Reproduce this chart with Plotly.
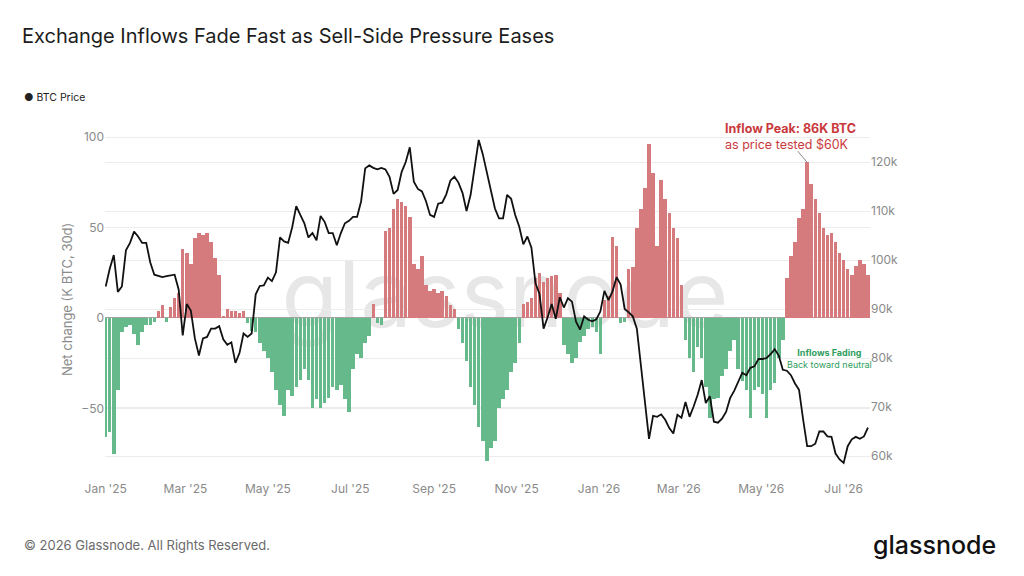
import plotly.graph_objects as go
import pandas as pd

# ---------------- data (3-day steps starting 2025-01-01) ----------------
start_date = "2025-01-01"
step = "3D"

net_change_k_btc = [
    -66, -63, -75, -40, -8, -5, -4, -9, -15, -8,
    -4, -4, -2, 4, 7, -2, 6, 11, 14, 38,
    36, 30, 44, 47, 46, 47, 42, 33, 24, 1,
    5, 4, 4, 3, 4, -3, -7, -8, -14, -18,
    -22, -30, -40, -48, -54, -40, -43, -38, -34, -28,
    -34, -50, -45, -50, -47, -44, -38, -40, -37, -45,
    -52, -28, -20, -22, -14, -10, 8, -3, -4, 48,
    50, 60, 66, 64, 62, 56, 30, 27, 34, 18,
    15, 16, 14, 15, 12, 7, 5, -6, -14, -24,
    -38, -48, -60, -68, -79, -72, -68, -50, -45, -40,
    -30, -25, -14, 8, 9, 11, 22, 25, 20, 22,
    23, 24, 14, -15, -20, -25, -22, -13, -10, -6,
    -5, -8, -20, 10, 12, 45, 40, -3, -2, 27,
    28, 50, 60, 72, 96, 80, 40, 76, 66, 58,
    50, 44, 18, -12, -22, -30, -16, -22, -38, -55,
    -45, -44, -32, -28, -18, -12, -28, -35, -40, -55,
    -40, -38, -42, -55, -40, -36, -22, -12, 22, 34,
    42, 55, 60, 86, 74, 66, 58, 50, 46, 47,
    42, 36, 32, 27, 24, 29, 32, 30, 24,
]

btc_price_k = [
    94.6, 98.2, 101, 93.5, 94.6, 102, 103.5, 105.8, 104.8, 103.5,
    103.5, 99.5, 97, 96.8, 96.5, 96.7, 96.8, 97, 94, 84.6,
    91, 89.7, 84, 80.5, 84, 84.3, 86, 86, 86.5, 83.8,
    82.7, 83.2, 79, 81, 85, 84.3, 85, 93, 94.7, 94.8,
    96.4, 95.7, 97.5, 104.6, 103.8, 103.5, 106.7, 111, 109.2, 107.5,
    104.6, 105.5, 104, 109, 107.8, 105.5, 105.5, 103, 105.5, 107.5,
    108, 108.8, 108.8, 112, 118.7, 119.3, 118.8, 118.5, 118.8, 118.5,
    117, 113.5, 114.3, 118, 120, 123, 116, 114.5, 114, 112,
    109.2, 108.8, 111.5, 111.7, 113.4, 116.2, 117, 115.8, 113.7, 110,
    113.3, 119, 124.5, 121.6, 118, 114.5, 110.5, 108.5, 108.5, 113.3,
    112.5, 109.2, 106.8, 103.2, 104.8, 102.5, 95.3, 93, 86, 88.3,
    91, 88, 92.4, 90.3, 92.2, 91.5, 87.4, 85.8, 88.5, 87.8,
    87.5, 87.9, 89.5, 93.7, 91.8, 93.6, 96.5, 95, 90, 89.3,
    88.5, 86, 78.5, 70.5, 63.5, 68.2, 68, 68.5, 67.4, 65.7,
    64.6, 68.4, 67.8, 71, 68, 70.1, 72.5, 75.5, 70.8, 72.2,
    67, 66.8, 67.6, 69, 71.8, 73.3, 75.3, 77, 76.5, 78,
    78.3, 79.8, 79.8, 80, 80.8, 81.8, 80.5, 77.6, 77.4, 76.5,
    74.8, 73.5, 67.5, 62, 62, 62.5, 65, 65, 64, 63.9,
    60.5, 59.3, 58.6, 62, 63.4, 63.9, 63.5, 64, 65.8,
]

left_ticks = [-50, 0, 50, 100]
right_ticks = [60, 70, 80, 90, 100, 110, 120]
right_tick_labels = ["60k", "70k", "80k", "90k", "100k", "110k", "120k"]

peak_value = 86

# ---------------- styling ----------------
FONT = "Inter"
RED = "#d57a7d"
GREEN = "#66b98a"
GRID = "#ececec"
TICK = "#8a8a8a"

dates = pd.date_range(start_date, periods=len(net_change_k_btc), freq=step)
bar_colors = [RED if v >= 0 else GREEN for v in net_change_k_btc]
peak_idx = len(net_change_k_btc) - 1 - net_change_k_btc[::-1].index(peak_value)

fig = go.Figure()
fig.add_trace(go.Bar(
    x=dates, y=net_change_k_btc, marker=dict(color=bar_colors, line=dict(width=0)),
    width=3 * 86400000 * 0.86, yaxis="y", showlegend=False, name="Net change",
))
fig.add_trace(go.Scatter(
    x=dates, y=btc_price_k, mode="lines", line=dict(color="#111111", width=1.8),
    yaxis="y2", showlegend=False, name="BTC Price",
))

L, R, T, B = 105, 154, 128, 110
W, H = 1024, 576
pw, ph = W - L - R, H - T - B


def px(x):
    return (x - L) / pw


def py(y):
    return (H - B - y) / ph


fig.update_layout(
    width=W, height=H,
    margin=dict(l=L, r=R, t=T, b=B, pad=0),
    paper_bgcolor="white", plot_bgcolor="white",
    font=dict(family=FONT, color="#333333"),
    bargap=0,
    title=dict(
        text="Exchange Inflows Fade Fast as Sell-Side Pressure Eases",
        x=22 / W, xref="container", xanchor="left",
        y=1 - 36 / H, yref="container", yanchor="middle",
        font=dict(family=FONT, size=20, color="#1d1d1d"),
    ),
    xaxis=dict(
        type="date",
        range=["2024-12-31 12:00", "2026-07-20 12:00"],
        tick0="2025-01-01", dtick="M2", tickformat="%b '%y",
        showgrid=False, showline=False, zeroline=False, ticks="",
        tickfont=dict(size=12, color=TICK, family=FONT),
        ticklabelstandoff=14,
    ),
    yaxis=dict(
        range=[-81.8, 105.0], tickvals=left_ticks,
        showgrid=True, gridcolor=GRID, gridwidth=1,
        zeroline=True, zerolinecolor="#a3a3a3", zerolinewidth=1,
        showline=False, ticks="",
        tickfont=dict(size=12, color=TICK, family=FONT),
    ),
    yaxis2=dict(
        range=[57.96, 126.94], tickvals=right_ticks, ticktext=right_tick_labels,
        overlaying="y", side="right",
        showgrid=True, gridcolor=GRID, gridwidth=1,
        zeroline=False, showline=False, ticks="",
        tickfont=dict(size=12, color=TICK, family=FONT),
    ),
)

# watermark behind data
fig.add_shape(
    type="rect", xref="paper", yref="paper",
    x0=px(270), x1=px(740), y0=py(335), y1=py(245),
    line=dict(width=0), fillcolor="rgba(0,0,0,0)", layer="below",
    label=dict(text="glassnode", textposition="middle center",
               font=dict(size=92, color="#e7e7e7", family=FONT)),
)

ann = []
ann.append(dict(
    text="\u25CF BTC Price", xref="paper", yref="paper", x=px(22), y=py(97),
    xanchor="left", yanchor="middle", showarrow=False,
    font=dict(size=10.5, color="#222222", family=FONT),
))
ann.append(dict(
    text="Net change (K BTC, 30d)", xref="paper", yref="paper",
    x=px(67), y=py(300), textangle=-90, xanchor="center", yanchor="middle",
    showarrow=False, font=dict(size=13, color="#8a8a8a", family=FONT),
))
ann.append(dict(
    text="<b>Inflow Peak: 86K BTC</b><br>as price tested $60K",
    xref="paper", yref="paper", x=px(723), y=py(136.5),
    xanchor="left", yanchor="middle", align="left", showarrow=False,
    font=dict(size=12.5, color="#c9393c", family=FONT),
))
ann.append(dict(
    text=" ", x=dates[peak_idx], y=peak_value, xref="x", yref="y",
    showarrow=True, arrowhead=0, arrowwidth=1, arrowcolor="#8a8a8a",
    ax=-11, ay=-13, standoff=0, startstandoff=0, font=dict(size=1),
))
ann.append(dict(
    text="<b>Inflows Fading</b><br>Back toward neutral",
    xref="paper", yref="paper", x=px(829), y=py(358.5),
    xanchor="center", yanchor="middle", align="center", showarrow=False,
    font=dict(size=9, color="#2e9e5e", family=FONT),
))
ann.append(dict(
    text="\u00A9 2026 Glassnode. All Rights Reserved.",
    xref="paper", yref="paper", x=px(22), y=py(545),
    xanchor="left", yanchor="middle", showarrow=False,
    font=dict(size=13, color="#6b6b6b", family=FONT),
))
ann.append(dict(
    text="glassnode", xref="paper", yref="paper", x=px(998), y=py(545),
    xanchor="right", yanchor="middle", showarrow=False,
    font=dict(size=25, color="#111111", family=FONT, weight=500),
))
fig.update_layout(annotations=ann)

fig.write_html(
    "out.html",
    config={"displayModeBar": False},
    post_script="document.body.style.margin='0';",
)
